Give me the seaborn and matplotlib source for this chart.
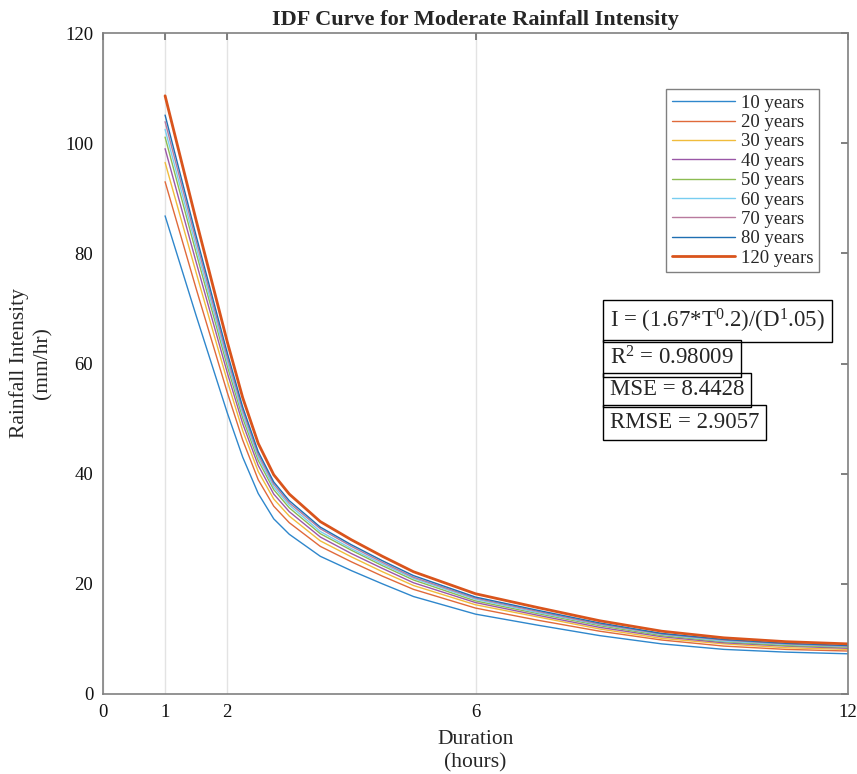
import numpy as np
import pandas as pd
import matplotlib
matplotlib.use('Agg')
import matplotlib.pyplot as plt
import seaborn as sns

# durations (hours), values
duration = [1, 1.5, 2, 2.25, 2.5, 2.75, 3, 3.5, 4, 4.5, 5, 6, 7, 8, 9, 10, 11, 12]

i_10 = [86.8, 68.7, 51.1, 43.0, 36.4, 31.8, 29.0, 25.0, 22.4, 20.0, 17.7, 14.5, 12.5, 10.6, 9.1, 8.1, 7.6, 7.3]
i_20 = [93.0, 73.6, 54.8, 46.1, 38.9, 34.1, 31.1, 26.8, 24.0, 21.4, 19.0, 15.6, 13.4, 11.4, 9.8, 8.7, 8.1, 7.8]
i_30 = [96.5, 76.5, 56.9, 47.8, 40.4, 35.4, 32.3, 27.8, 24.9, 22.2, 19.7, 16.2, 14.0, 11.8, 10.1, 9.1, 8.4, 8.1]
i_40 = [99.0, 78.4, 58.4, 49.1, 41.5, 36.3, 33.1, 28.5, 25.5, 22.8, 20.2, 16.6, 14.3, 12.1, 10.4, 9.3, 8.7, 8.3]
i_50 = [101.1, 80.1, 59.6, 50.1, 42.4, 37.1, 33.8, 29.1, 26.1, 23.3, 20.7, 16.9, 14.6, 12.4, 10.6, 9.5, 8.8, 8.5]
i_60 = [102.5, 81.2, 60.4, 50.8, 43.0, 37.6, 34.3, 29.5, 26.4, 23.6, 21.0, 17.2, 14.8, 12.6, 10.8, 9.6, 9.0, 8.6]
i_70 = [103.9, 82.3, 61.2, 51.5, 43.5, 38.1, 34.7, 30.0, 26.8, 23.9, 21.2, 17.4, 15.0, 12.7, 10.9, 9.8, 9.1, 8.7]
i_80 = [105.1, 83.2, 62.0, 52.1, 44.0, 38.5, 35.1, 30.3, 27.1, 24.2, 21.5, 17.6, 15.2, 12.9, 11.0, 9.9, 9.2, 8.8]
i_120 = [108.6, 86.0, 64.0, 53.8, 45.5, 39.8, 36.3, 31.3, 28.0, 25.0, 22.2, 18.2, 15.7, 13.3, 11.4, 10.2, 9.5, 9.1]

labels = ['10 years', '20 years', '30 years', '40 years', '50 years',
          '60 years', '70 years', '80 years', '120 years']
series = [i_10, i_20, i_30, i_40, i_50, i_60, i_70, i_80, i_120]
colors = ['#2f87cc', '#e06a3a', '#f0bc3c', '#9a57a8', '#8cbc52',
          '#78cdf0', '#b87a9e', '#1f6fb2', '#d9541c']

x_ticks = [0, 1, 2, 6, 12]
y_ticks = [0, 20, 40, 60, 80, 100, 120]

fit_lines = ['I = (1.67*T$^{0}$.2)/(D$^{1}$.05)', 'R$^{2}$ = 0.98009',
             'MSE = 8.4428', 'RMSE = 2.9057']

sns.set_theme(style='white')
plt.rcParams['font.family'] = ['Liberation Serif', 'DejaVu Serif']
plt.rcParams['mathtext.fontset'] = 'custom'
plt.rcParams['mathtext.rm'] = 'Liberation Serif'
plt.rcParams['mathtext.it'] = 'Liberation Serif'

fig = plt.figure(figsize=(8.57, 7.74), dpi=100)
ax = fig.add_axes([103 / 857, 80 / 774, 745 / 857, 661 / 774])

for vals, lab, col in zip(series, labels, colors):
    lw = 2.0 if lab == '120 years' else 1.0
    sns.lineplot(x=duration, y=vals, color=col, lw=lw, label=lab, ax=ax)

ax.set_xlim(0, 12)
ax.set_ylim(0, 120)
ax.set_xticks(x_ticks)
ax.set_yticks(y_ticks)
ax.xaxis.grid(True, color='#e3e3e3', lw=1)
ax.yaxis.grid(False)
ax.tick_params(direction='in', top=True, right=True, length=5,
               color='#707070', labelsize=13.5, labelcolor='#111111', pad=7)
for s in ax.spines.values():
    s.set_color('#808080')
    s.set_linewidth(1.2)

ax.set_title('IDF Curve for Moderate Rainfall Intensity', fontsize=16,
             fontweight='bold', pad=6)
ax.set_xlabel('Duration\n(hours)', fontsize=15.5, labelpad=7, linespacing=1.3)
ax.set_ylabel('Rainfall Intensity\n(mm/hr)', fontsize=15.5, labelpad=9, linespacing=1.3)

ax.legend(loc='upper left', bbox_to_anchor=(0.7557, 0.9153), fontsize=13.5,
          frameon=True, fancybox=False, edgecolor='#808080', framealpha=1,
          handlelength=3.4, handletextpad=0.3, labelspacing=0.12,
          borderpad=0.3, borderaxespad=0)

y_pos = [0.564, 0.508, 0.460, 0.411]
for txt, yp in zip(fit_lines, y_pos):
    ax.text(0.6805, yp, txt, transform=ax.transAxes, fontsize=16.5,
            va='center', ha='left',
            bbox=dict(boxstyle='square,pad=0.3', fc='none', ec='black', lw=1))

fig.savefig('out.png', dpi=100)
